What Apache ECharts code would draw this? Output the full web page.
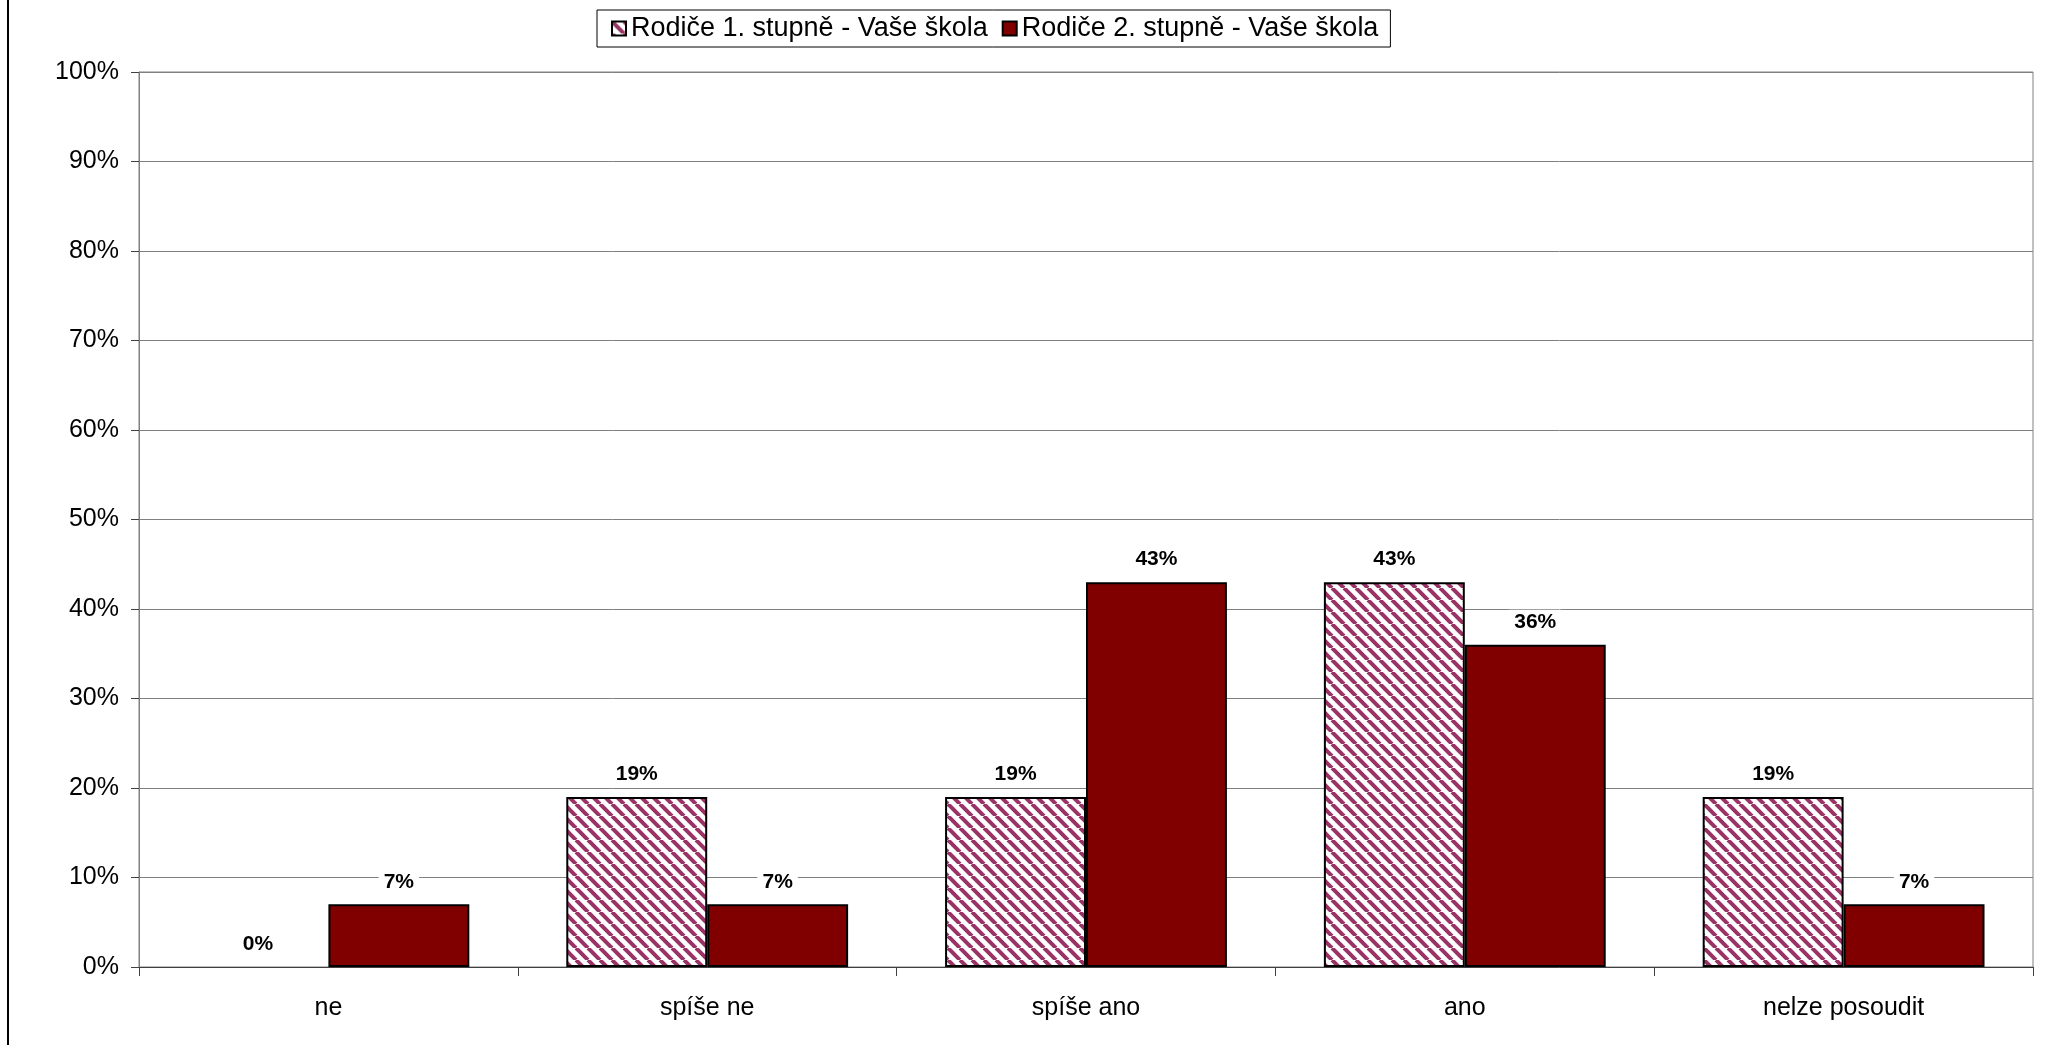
<!DOCTYPE html>
<html>
<head>
<meta charset="utf-8">
<title>Rodiče - Vaše škola</title>
<script src="https://cdn.jsdelivr.net/npm/echarts@6/dist/echarts.min.js"></script>
<style>
	html, body { margin: 0; padding: 0; background: #fff; }
	#chart { width: 2064px; height: 1045px; }
</style>
</head>
<body>
<div id="chart"></div>
<script>
// kategorie a hodnoty (v %)
const categories = ['ne', 'spíše ne', 'spíše ano', 'ano', 'nelze posoudit'];
const seriesNames = ['Rodiče 1. stupně - Vaše škola', 'Rodiče 2. stupně - Vaše škola'];
const firstGrade = [0, 19, 19, 43, 19];
const secondGrade = [7, 7, 43, 36, 7];

// šrafování pro 1. stupeň (bílé pozadí, fialové šikmé pruhy)
const makeHatch = () => {
	const s = 12;
	const c = document.createElement('canvas');
	c.width = s;
	c.height = s;
	const ctx = c.getContext('2d');
	ctx.fillStyle = '#fff';
	ctx.fillRect(0, 0, s, s);
	ctx.strokeStyle = '#993366';
	ctx.lineWidth = 4;
	[-s, 0, s].forEach(x0 => {
		ctx.beginPath();
		ctx.moveTo(x0, 0);
		ctx.lineTo(x0 + s, s);
		ctx.stroke();
	});
	return c;
};

// nulové sloupce bez rámečku
const toBarData = arr => arr.map(v => (v === 0 ? { value: v, itemStyle: { borderWidth: 0 } } : v));

const chart = echarts.init(document.getElementById('chart'));

const labelStyle = {
	show: true,
	position: 'top',
	distance: 10,
	formatter: '{c}%',
	fontFamily: 'Liberation Sans, Arial',
	fontWeight: 'bold',
	fontSize: 21,
	color: '#000',
	backgroundColor: '#fff',
	padding: [2, 5]
};

chart.setOption({
	animation: false,
	textStyle: { fontFamily: 'Liberation Sans, Arial' },
	legend: {
		data: seriesNames,
		left: 597,
		top: 10,
		padding: [5, 12, 5, 14],
		itemGap: 14,
		itemWidth: 14,
		itemHeight: 14,
		icon: 'rect',
		borderColor: '#000',
		borderWidth: 1,
		textStyle: { fontSize: 27, color: '#000' }
	},
	grid: {
		left: 139,
		right: 31,
		top: 72,
		bottom: 78,
		show: true,
		borderColor: '#808080',
		borderWidth: 1
	},
	xAxis: {
		type: 'category',
		data: categories,
		axisLine: { lineStyle: { color: '#404040', width: 1 } },
		axisTick: { show: true, length: 9, lineStyle: { color: '#404040' } },
		axisLabel: { fontSize: 25, color: '#000', margin: 29 }
	},
	yAxis: {
		type: 'value',
		min: 0,
		max: 100,
		interval: 10,
		axisLine: { show: true, lineStyle: { color: '#808080', width: 1 } },
		axisTick: { show: true, length: 8, lineStyle: { color: '#404040' } },
		axisLabel: { formatter: '{value}%', fontSize: 25, color: '#000', margin: 20 },
		splitLine: { lineStyle: { color: '#808080', width: 1 } }
	},
	series: [
		{
			name: seriesNames[0],
			type: 'bar',
			data: toBarData(firstGrade),
			barGap: '0%',
			barCategoryGap: '25.6%',
			itemStyle: {
				color: { image: makeHatch(), repeat: 'repeat' },
				borderColor: '#000',
				borderWidth: 2
			},
			label: labelStyle
		},
		{
			name: seriesNames[1],
			type: 'bar',
			data: toBarData(secondGrade),
			barGap: '0%',
			barCategoryGap: '25.6%',
			itemStyle: {
				color: '#800000',
				borderColor: '#000',
				borderWidth: 2
			},
			label: labelStyle
		}
	],
	graphic: [
		{
			type: 'line',
			shape: { x1: 8, y1: 0, x2: 8, y2: 1045 },
			style: { stroke: '#000', lineWidth: 2 }
		}
	]
});
</script>
</body>
</html>
